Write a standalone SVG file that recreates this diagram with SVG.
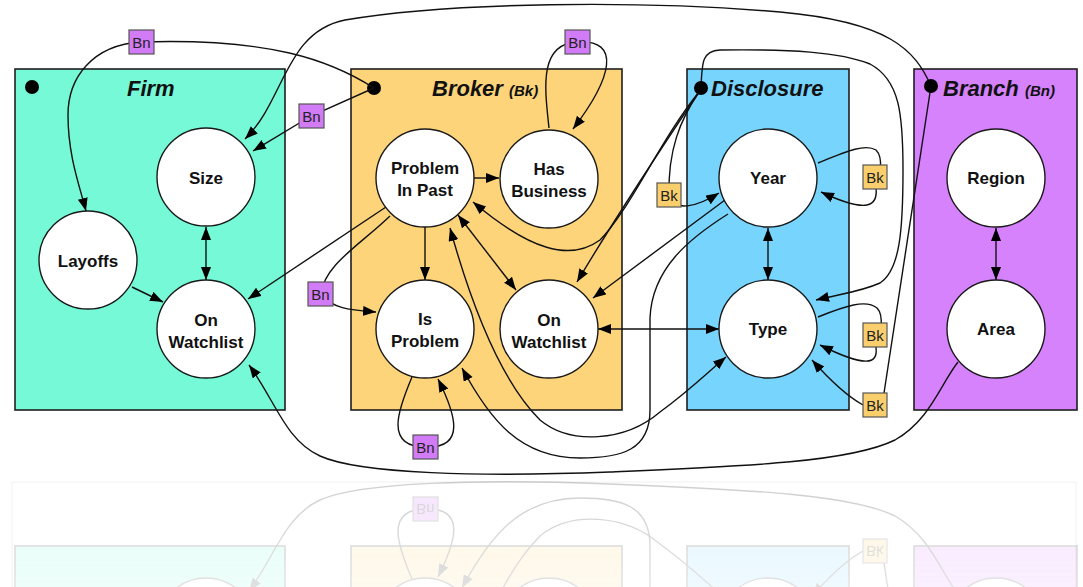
<svg xmlns="http://www.w3.org/2000/svg" xmlns:xlink="http://www.w3.org/1999/xlink" width="1083" height="587" viewBox="0 0 1083 587">
  <style>
    .plate { stroke: #1e1e1e; stroke-width: 1.6; }
    .firm { fill: #76F9D6; }
    .broker { fill: #FDD47A; }
    .disc { fill: #77D4FD; }
    .branch { fill: #D682FD; }
    .node { fill: #ffffff; stroke: #1a1a1a; stroke-width: 1.4; }
    .lbl { font-family: "Liberation Sans", Arial, Helvetica, sans-serif; font-weight: bold; font-size: 17px; fill: #111; text-anchor: middle; }
    .title { font-family: "Liberation Sans", Arial, Helvetica, sans-serif; font-weight: bold; font-style: italic; font-size: 22px; fill: #111; }
    .sub { font-size: 15px; }
    .dot { fill: #000; }
    .edge { fill: none; stroke: #111; stroke-width: 1.4; }
    .arr { marker-end: url(#head); }
    .both { marker-start: url(#head); marker-end: url(#head); }
    .bn { fill: #D27BF6; stroke: #555; stroke-width: 1.2; }
    .bk { fill: #F9CF6E; stroke: #555; stroke-width: 1.2; }
    .tag { font-family: "Liberation Sans", Arial, Helvetica, sans-serif; font-size: 15px; fill: #222; text-anchor: middle; }
  </style>
  <defs>
    <marker id="head" markerUnits="userSpaceOnUse" markerWidth="14" markerHeight="11" refX="13" refY="5" orient="auto-start-reverse">
      <path d="M0,0 L13,5 L0,10 z" fill="#000"/>
    </marker>
    <linearGradient id="fadeGrad" gradientUnits="userSpaceOnUse" x1="0" y1="478" x2="0" y2="587">
      <stop offset="0" stop-color="#fff" stop-opacity="1"/>
      <stop offset="1" stop-color="#fff" stop-opacity="0.6"/>
    </linearGradient>
    <mask id="fade" maskUnits="userSpaceOnUse" x="0" y="478" width="1083" height="109">
      <rect x="0" y="478" width="1083" height="109" fill="url(#fadeGrad)"/>
    </mask>
  </defs>

  <rect x="0" y="0" width="1083" height="587" fill="#ffffff"/>

  <g id="diagram">
    <!-- plates -->
    <g id="plate-firm">
      <rect class="plate firm" x="15" y="69" width="270" height="341"/>
      <circle class="dot" cx="32" cy="87" r="7"/>
      <text class="title" x="127" y="96">Firm</text>
    </g>
    <g id="plate-broker">
      <rect class="plate broker" x="351" y="69" width="271" height="341"/>
      <circle class="dot" cx="374" cy="88" r="7"/>
      <text class="title" x="432" y="96">Broker <tspan class="sub">(Bk)</tspan></text>
    </g>
    <g id="plate-disclosure">
      <rect class="plate disc" x="687" y="69" width="162" height="341"/>
      <text class="title" x="711" y="96">Disclosure</text>
    </g>
    <g id="plate-branch">
      <rect class="plate branch" x="914" y="69" width="163" height="341"/>
      <text class="title" x="943" y="96">Branch <tspan class="sub">(Bn)</tspan></text>
    </g>

    <!-- connectors -->
    <g id="connectors">
      <!-- Firm -->
      <path class="edge both" d="M206,227 L206,280"/>
      <path class="edge arr" d="M132,287 L163,302"/>
      <!-- Broker internal -->
      <path class="edge arr" d="M474,178 L499,178"/>
      <path class="edge arr" d="M425,227 L425,280"/>
      <path class="edge both" d="M458,215 L516,290"/>
      <path class="edge arr" d="M549,128 C545,90 538,44 577,42 C622,39 612,78 573,129"/>
      <path class="edge arr" d="M412,377 C398,410 384,447 426,447 C466,448 456,415 438,379"/>
      <!-- Broker to Firm -->
      <path class="edge arr" d="M386,207 L248,299"/>
      <path class="edge arr" d="M390,216 C360,245 324,265 321,294 C332,309 352,310 376,312"/>
      <path class="edge arr" d="M374,88 C330,60 270,38 141,42 C92,45 68,78 68,115 C68,155 79,184 86,211"/>
      <path class="edge arr" d="M374,88 L311,116 L253,151"/>
      <!-- Branch over the top to Size -->
      <path class="edge arr" d="M931,86 C915,50 890,22 780,12 C640,0 450,2 345,20 C285,32 285,100 245,139"/>
      <!-- Disclosure plate connections -->
      <path class="edge arr" d="M701,88 C702,62 702,51 720,50 C790,49 840,52 870,64 C900,80 903,115 903,170 C903,230 900,270 880,283 C860,292 840,294 816,300"/>
      <path class="edge arr" d="M699,92 C680,120 668,150 669,195 C674,214 700,205 719,193"/>
      <path class="edge arr" d="M699,92 C660,140 630,210 600,240 C570,262 530,250 473,202"/>
      <path class="edge arr" d="M699,92 C660,150 620,210 577,282"/>
      <!-- Year / Type -->
      <path class="edge both" d="M768,228 L768,280"/>
      <path class="edge arr" d="M818,163 C845,152 865,143 876,150 C884,158 880,178 876,188 C878,206 868,214 821,192"/>
      <path class="edge arr" d="M818,317 C845,306 866,299 877,308 C885,316 880,338 876,348 C878,364 866,368 820,345"/>
      <path class="edge arr" d="M863,405 C845,395 828,378 812,360"/>
      <path class="edge" d="M931,86 L884,393"/>
      <path class="edge arr" d="M725,200 L593,298"/>
      <path class="edge arr" d="M728,214 C690,238 652,268 650,318 L650,410 C650,450 622,458 580,458 C520,458 490,420 462,368"/>
      <path class="edge both" d="M450,228 C470,300 500,380 540,420 C570,445 625,442 660,412 C690,390 708,372 726,357"/>
      <path class="edge both" d="M598,329 L719,329"/>
      <!-- Region / Area -->
      <path class="edge both" d="M996,228 L996,280"/>
      <path class="edge arr" d="M958,362 C940,385 930,420 895,440 C850,462 750,466 610,472 C480,477 360,474 320,456 C285,440 275,400 249,365"/>
    </g>

    <!-- dots drawn above the lines -->
    <circle class="dot" cx="701" cy="88" r="7"/>
    <circle class="dot" cx="931" cy="86" r="7"/>

    <!-- Firm nodes -->
    <g id="firm-size"><circle class="node" cx="206" cy="177" r="49"/><text class="lbl" x="206" y="184">Size</text></g>
    <g id="firm-layoffs"><circle class="node" cx="88" cy="260" r="49"/><text class="lbl" x="88" y="267">Layoffs</text></g>
    <g id="firm-watchlist"><circle class="node" cx="206" cy="329" r="49"/><text class="lbl" x="206" y="326">On</text><text class="lbl" x="206" y="348">Watchlist</text></g>

    <!-- Broker nodes -->
    <g id="broker-problem-past"><circle class="node" cx="425" cy="178" r="49"/><text class="lbl" x="425" y="174">Problem</text><text class="lbl" x="425" y="196">In Past</text></g>
    <g id="broker-business"><circle class="node" cx="549" cy="179" r="49"/><text class="lbl" x="549" y="175">Has</text><text class="lbl" x="549" y="197">Business</text></g>
    <g id="broker-is-problem"><circle class="node" cx="425" cy="329" r="49"/><text class="lbl" x="425" y="325">Is</text><text class="lbl" x="425" y="347">Problem</text></g>
    <g id="broker-watchlist"><circle class="node" cx="549" cy="329" r="49"/><text class="lbl" x="549" y="326">On</text><text class="lbl" x="549" y="348">Watchlist</text></g>

    <!-- Disclosure nodes -->
    <g id="disc-year"><circle class="node" cx="768" cy="178" r="49"/><text class="lbl" x="768" y="184">Year</text></g>
    <g id="disc-type"><circle class="node" cx="768" cy="329" r="49"/><text class="lbl" x="768" y="335">Type</text></g>

    <!-- Branch nodes -->
    <g id="branch-region"><circle class="node" cx="996" cy="178" r="49"/><text class="lbl" x="996" y="184">Region</text></g>
    <g id="branch-area"><circle class="node" cx="996" cy="329" r="49"/><text class="lbl" x="996" y="335">Area</text></g>

    <!-- index tags on connectors -->
    <g id="tags">
      <g id="tag-bn-layoffs"><rect class="bn" x="129" y="30" width="25" height="24"/><text class="tag" x="141.5" y="47.5">Bn</text></g>
      <g id="tag-bn-size"><rect class="bn" x="299" y="104" width="25" height="24"/><text class="tag" x="311.5" y="121.5">Bn</text></g>
      <g id="tag-bn-isproblem"><rect class="bn" x="308" y="282" width="25" height="24"/><text class="tag" x="320.5" y="299.5">Bn</text></g>
      <g id="tag-bn-business"><rect class="bn" x="565" y="30" width="25" height="24"/><text class="tag" x="577.5" y="47.5">Bn</text></g>
      <g id="tag-bn-loop"><rect class="bn" x="413" y="435" width="25" height="24"/><text class="tag" x="425.5" y="452.5">Bn</text></g>
      <g id="tag-bk-year-left"><rect class="bk" x="657" y="183" width="24" height="24"/><text class="tag" x="669" y="200.5">Bk</text></g>
      <g id="tag-bk-year"><rect class="bk" x="863" y="165" width="24" height="24"/><text class="tag" x="875" y="182.5">Bk</text></g>
      <g id="tag-bk-type"><rect class="bk" x="863" y="323" width="24" height="24"/><text class="tag" x="875" y="340.5">Bk</text></g>
      <g id="tag-bk-branch"><rect class="bk" x="863" y="393" width="24" height="24"/><text class="tag" x="875" y="410.5">Bk</text></g>
    </g>
  </g>

  <!-- faded mirror image below the diagram -->
  <rect x="12" y="482" width="1064" height="110" fill="none" stroke="#f2f2f2" stroke-width="1"/>
  <g mask="url(#fade)" opacity="0.2">
    <use xlink:href="#diagram" href="#diagram" transform="matrix(1,0,0,-1,0,956)"/>
  </g>
</svg>
